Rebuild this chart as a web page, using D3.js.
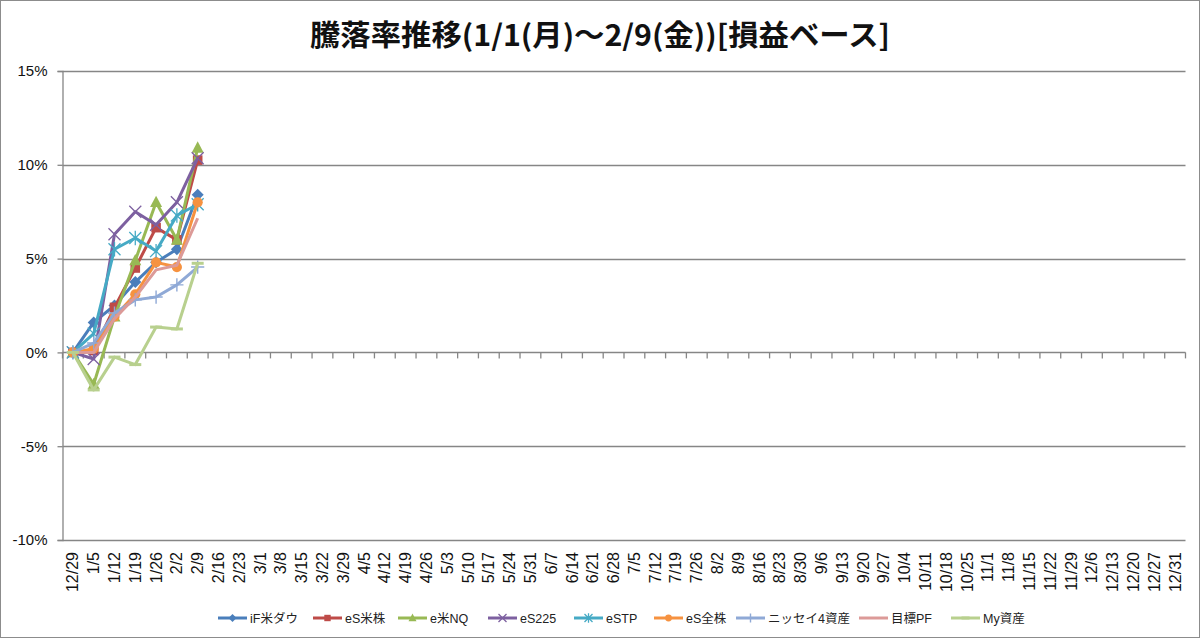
<!DOCTYPE html>
<html>
<head>
<meta charset="utf-8">
<script src="https://cdn.jsdelivr.net/npm/d3@7"></script>
<style>
	html, body { margin: 0; padding: 0; background: #fff; }
	svg { display: block; }
	text { font-family: "Liberation Sans", "Noto Sans CJK JP", sans-serif; }
</style>
</head>
<body>
<svg id="chart" width="1200" height="638"></svg>
<script>
const TITLE = "騰落率推移(1/1(月)～2/9(金))[損益ベース]";

const categories = [
	"12/29", "1/5", "1/12", "1/19", "1/26", "2/2", "2/9", "2/16", "2/23", "3/1",
	"3/8", "3/15", "3/22", "3/29", "4/5", "4/12", "4/19", "4/26", "5/3", "5/10",
	"5/17", "5/24", "5/31", "6/7", "6/14", "6/21", "6/28", "7/5", "7/12", "7/19",
	"7/26", "8/2", "8/9", "8/16", "8/23", "8/30", "9/6", "9/13", "9/20", "9/27",
	"10/4", "10/11", "10/18", "10/25", "11/1", "11/8", "11/15", "11/22", "11/29", "12/6",
	"12/13", "12/20", "12/27", "12/31",
];

const yTicks = [-10, -5, 0, 5, 10, 15];

// values in %, weeks 12/29 .. 2/9
const ifDow = [0, 1.6, 2.5, 3.75, 4.8, 5.5, 8.4];
const esUsStock = [0, 0.1, 2.4, 4.5, 6.65, 6.0, 10.25];
const usNq = [0, -1.7, 1.9, 4.9, 8.0, 6.0, 10.9];
const es225 = [0, -0.35, 6.3, 7.5, 6.8, 8.0, 10.35];
const eStp = [0, 1.0, 5.5, 6.1, 5.4, 7.3, 7.9];
const esAll = [0, 0.2, 1.9, 3.1, 4.8, 4.55, 8.0];
const nissay4 = [0, 0.5, 2.1, 2.8, 2.95, 3.6, 4.55];
const targetPf = [0, 0.0, 1.8, 2.95, 4.4, 4.65, 7.15];
const myAssets = [0, -2.0, -0.25, -0.65, 1.35, 1.25, 4.75];

const seriesNames = ["iF米ダウ", "eS米株", "e米NQ", "eS225", "eSTP", "eS全株", "ニッセイ4資産", "目標PF", "My資産"];
const seriesValues = [ifDow, esUsStock, usNq, es225, eStp, esAll, nissay4, targetPf, myAssets];
const seriesColors = ["#4a7ebb", "#be4b48", "#98b954", "#7d60a0", "#46aac5", "#f69240", "#8fa9d6", "#dc9a98", "#b8d08e"];
const seriesMarkers = ["diamond", "square", "triangle", "x", "star", "circle", "plus", "none", "dash"];

const svg = d3.select("#chart");
const W = 1200, H = 638;
const plot = { left: 62.5, right: 1185.5, top: 71, bottom: 540 };
const gridColor = "#868686";

svg.append("rect")
	.attr("x", 0.5).attr("y", 0.5)
	.attr("width", W - 1).attr("height", H - 1)
	.attr("fill", "#fff")
	.attr("stroke", "#8c8c8c");

svg.append("text")
	.attr("x", 600)
	.attr("y", 46)
	.attr("text-anchor", "middle")
	.attr("textLength", 580)
	.attr("lengthAdjust", "spacingAndGlyphs")
	.style("font-family", "'Noto Sans CJK JP', sans-serif")
	.style("font-size", "29px")
	.style("font-weight", "700")
	.attr("fill", "#111")
	.text(TITLE);

const x = d3.scaleBand()
	.domain(categories)
	.range([plot.left, plot.right])
	.padding(0);

const y = d3.scaleLinear()
	.domain([-10, 15])
	.range([plot.bottom, plot.top]);

// y axis with left ticks
const yAxis = svg.append("g")
	.attr("transform", `translate(${plot.left},0)`)
	.call(d3.axisLeft(y)
		.tickValues(yTicks)
		.tickSize(5)
		.tickPadding(10)
		.tickFormat((d) => d + "%"));

yAxis.select(".domain").attr("stroke", gridColor).attr("stroke-width", 1.3);
yAxis.selectAll(".tick line").attr("stroke", gridColor).attr("stroke-width", 1.3);
yAxis.selectAll(".tick text")
	.attr("fill", "#111")
	.style("font-size", "15px")
	.style("font-family", "'Liberation Sans', sans-serif");

// horizontal gridlines
svg.append("g")
	.selectAll("line")
	.data(yTicks.filter((d) => d !== 0))
	.join("line")
	.attr("x1", plot.left)
	.attr("x2", plot.right)
	.attr("y1", (d) => Math.round(y(d)) + 0.5)
	.attr("y2", (d) => Math.round(y(d)) + 0.5)
	.attr("stroke", gridColor)
	.attr("stroke-width", 1.5);

// category axis at 0%
const y0 = y(0);
svg.append("line")
	.attr("x1", plot.left).attr("x2", plot.right)
	.attr("y1", y0).attr("y2", y0)
	.attr("stroke", gridColor)
	.attr("stroke-width", 1.5);

svg.append("g")
	.selectAll("line")
	.data(categories.concat(["_end"]))
	.join("line")
	.attr("x1", (d, i) => plot.left + i * x.bandwidth())
	.attr("x2", (d, i) => plot.left + i * x.bandwidth())
	.attr("y1", y0)
	.attr("y2", y0 + 6)
	.attr("stroke", gridColor)
	.attr("stroke-width", 1.3);

svg.append("g")
	.selectAll("text")
	.data(categories)
	.join("text")
	.attr("transform", (d) => `translate(${x(d) + x.bandwidth() / 2 + 5.5},${552}) rotate(-90)`)
	.attr("text-anchor", "end")
	.attr("fill", "#111")
	.style("font-size", "16px")
	.text((d) => d);

// markers
function drawMarker(g, type, color, size) {
	const s = size;
	if (type === "diamond") {
		g.append("path").attr("d", `M0,${-s}L${s},0L0,${s}L${-s},0Z`).attr("fill", color);
	} else if (type === "square") {
		g.append("rect").attr("x", -s * 0.8).attr("y", -s * 0.8).attr("width", s * 1.6).attr("height", s * 1.6).attr("fill", color);
	} else if (type === "triangle") {
		g.append("path").attr("d", `M0,${-s * 1.1}L${s},${s * 0.8}L${-s},${s * 0.8}Z`).attr("fill", color);
	} else if (type === "circle") {
		g.append("circle").attr("r", s * 0.85).attr("fill", color);
	} else if (type === "x") {
		g.append("path").attr("d", `M${-s},${-s}L${s},${s}M${-s},${s}L${s},${-s}`).attr("stroke", color).attr("stroke-width", 1.3);
	} else if (type === "star") {
		g.append("path").attr("d", `M${-s},${-s}L${s},${s}M${-s},${s}L${s},${-s}M0,${-s * 1.2}L0,${s * 1.2}`).attr("stroke", color).attr("stroke-width", 1.3);
	} else if (type === "plus") {
		g.append("path").attr("d", `M${-s * 1.1},0L${s * 1.1},0M0,${-s * 1.1}L0,${s * 1.1}`).attr("stroke", color).attr("stroke-width", 1.4);
	} else if (type === "dash") {
		g.append("path").attr("d", `M${-s},0L${s},0`).attr("stroke", color).attr("stroke-width", 3);
	}
}

const line = d3.line()
	.x((d, i) => x(categories[i]) + x.bandwidth() / 2)
	.y((d) => y(d));

seriesValues.forEach((vals, k) => {
	const g = svg.append("g");
	g.append("path")
		.datum(vals)
		.attr("d", line)
		.attr("fill", "none")
		.attr("stroke", seriesColors[k])
		.attr("stroke-width", 3)
		.attr("stroke-linejoin", "round");
	vals.forEach((v, i) => {
		const m = g.append("g")
			.attr("transform", `translate(${x(categories[i]) + x.bandwidth() / 2},${y(v)})`);
		drawMarker(m, seriesMarkers[k], seriesColors[k], 6);
	});
});

// legend
const legendX = [218, 313, 398, 488, 574, 654, 736, 859, 951];
const legendY = 618;
const legend = svg.append("g");
seriesNames.forEach((name, k) => {
	const g = legend.append("g").attr("transform", `translate(${legendX[k]},${legendY})`);
	g.append("line")
		.attr("x1", 0).attr("x2", 29)
		.attr("y1", 0).attr("y2", 0)
		.attr("stroke", seriesColors[k])
		.attr("stroke-width", 3);
	const m = g.append("g").attr("transform", "translate(14.5,0)");
	drawMarker(m, seriesMarkers[k], seriesColors[k], 4);
	g.append("text")
		.attr("x", 32)
		.attr("y", 4.5)
		.attr("fill", "#222")
		.style("font-size", "12.5px")
		.text(name);
});
</script>
</body>
</html>
